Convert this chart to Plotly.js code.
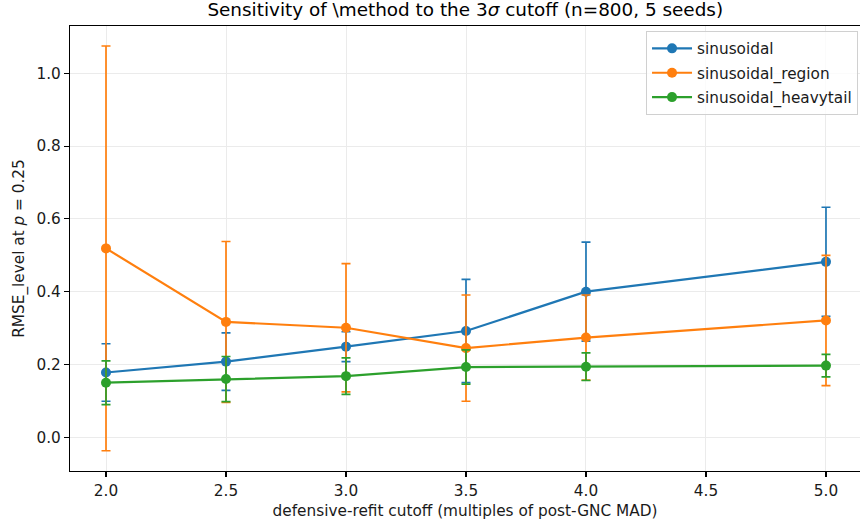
<!DOCTYPE html>
<html>
<head>
<meta charset="utf-8">
<script src="https://cdn.plot.ly/plotly-3.0.1.min.js"></script>
<style>
  html, body { margin: 0; padding: 0; background: #ffffff; }
  #chart { width: 860px; height: 523px; }
</style>
</head>
<body>
<div id="chart"></div>
<script>
// Defensive-refit cutoff values (multiples of post-GNC MAD)
const cutoffs = [2.0, 2.5, 3.0, 3.5, 4.0, 5.0];

// Mean RMSE_level across seeds and the spread for each series
const sinusoidal = [0.178, 0.208, 0.249, 0.292, 0.400, 0.482];
const sinusoidalErr = [0.079, 0.079, 0.041, 0.142, 0.136, 0.150];

const sinusoidalRegion = [0.519, 0.317, 0.301, 0.245, 0.274, 0.321];
const sinusoidalRegionErr = [0.556, 0.221, 0.176, 0.146, 0.117, 0.179];

const sinusoidalHeavytail = [0.150, 0.160, 0.168, 0.193, 0.194, 0.197];
const sinusoidalHeavytailErr = [0.060, 0.062, 0.050, 0.047, 0.038, 0.031];

const seriesNames = ["sinusoidal", "sinusoidal_region", "sinusoidal_heavytail"];
const seriesColors = ["#1f77b4", "#ff7f0e", "#2ca02c"];

const xTicks = [2.0, 2.5, 3.0, 3.5, 4.0, 4.5, 5.0];
const yTicks = [0.0, 0.2, 0.4, 0.6, 0.8, 1.0];

const FONT = "DejaVu Sans, Liberation Sans, sans-serif";
const LABEL_SIZE = 15.3;

function series(name, y, err, color) {
  return {
    type: "scatter",
    mode: "lines+markers",
    name: name,
    legendgroup: name,
    x: cutoffs,
    y: y,
    line: { color: color, width: 2.2 },
    marker: { color: color, size: 10 },
    error_y: { type: "data", array: err, visible: true, color: color, thickness: 1.7, width: 4.5 }
  };
}

const data = [
  series(seriesNames[0], sinusoidal, sinusoidalErr, seriesColors[0]),
  series(seriesNames[1], sinusoidalRegion, sinusoidalRegionErr, seriesColors[1]),
  series(seriesNames[2], sinusoidalHeavytail, sinusoidalHeavytailErr, seriesColors[2])
];

const layout = {
  width: 860,
  height: 523,
  margin: { l: 70, r: 0, t: 26, b: 52 },
  paper_bgcolor: "#ffffff",
  plot_bgcolor: "#ffffff",
  font: { family: FONT, size: LABEL_SIZE, color: "#262626" },
  title: {
    text: "Sensitivity of \\method to the 3<i>σ</i> cutoff (n=800, 5 seeds)",
    font: { family: FONT, size: 18.4, color: "#000000" },
    x: 0.5410, xanchor: "center",
    y: 0.981, yanchor: "middle"
  },
  xaxis: {
    range: [1.85, 5.1417],
    tickvals: xTicks,
    ticktext: xTicks.map(v => v.toFixed(1)),
    ticks: "outside", ticklen: 5, tickwidth: 1.1, tickcolor: "#000000",
    showline: true, linecolor: "#000000", linewidth: 1.2, mirror: true,
    showgrid: true, gridcolor: "#ebebeb", gridwidth: 1,
    zeroline: false,
    tickfont: { family: FONT, size: LABEL_SIZE, color: "#1a1a1a" },
    title: { text: "defensive-refit cutoff (multiples of post-GNC MAD)", font: { family: FONT, size: LABEL_SIZE, color: "#1a1a1a" }, standoff: 6 }
  },
  yaxis: {
    range: [-0.0926, 1.130],
    tickvals: yTicks,
    ticktext: yTicks.map(v => v.toFixed(1)),
    ticks: "outside", ticklen: 5, tickwidth: 1.1, tickcolor: "#000000",
    showline: true, linecolor: "#000000", linewidth: 1.2,
    showgrid: true, gridcolor: "#ebebeb", gridwidth: 1,
    zeroline: false,
    tickfont: { family: FONT, size: LABEL_SIZE, color: "#1a1a1a" },
    title: { text: "RMSE_level at <i>p</i> = 0.25", font: { family: FONT, size: LABEL_SIZE, color: "#1a1a1a" }, standoff: 8 }
  },
  showlegend: true,
  legend: {
    x: 0.9975, xanchor: "right",
    y: 0.989, yanchor: "top",
    bgcolor: "rgba(255,255,255,0.8)",
    bordercolor: "#d0d0d0", borderwidth: 1,
    font: { family: FONT, size: LABEL_SIZE, color: "#1a1a1a" },
    traceorder: "grouped",
    tracegroupgap: 1.5,
    itemwidth: 40
  }
};

Plotly.newPlot("chart", data, layout, { displayModeBar: false, staticPlot: true });
</script>
</body>
</html>
